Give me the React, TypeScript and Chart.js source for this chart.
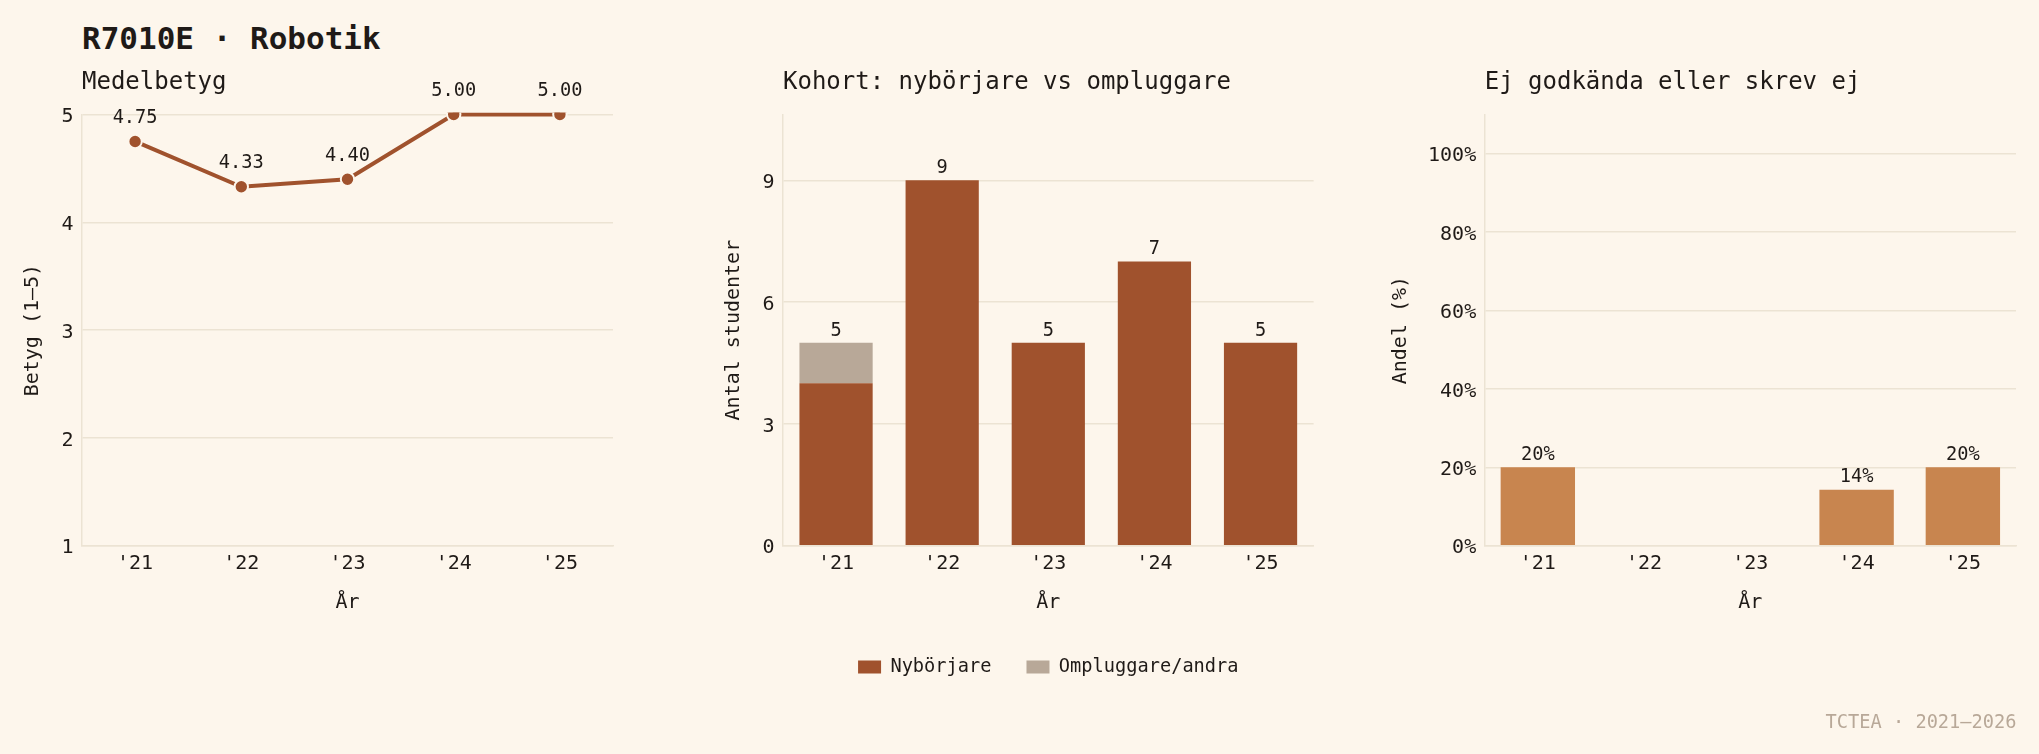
import React, { useEffect, useRef } from "react";
import { Chart, registerables } from "chart.js";

Chart.register(...registerables);

// ---- data ----
const years = ["'21", "'22", "'23", "'24", "'25"];
const meanGrade = [4.75, 4.33, 4.4, 5.0, 5.0];
const beginners = [4, 9, 5, 7, 5];
const others = [1, 0, 0, 0, 0];
const failShare = [20, 0, 0, 14.3, 20];
const gradeTicks = [1, 2, 3, 4, 5];
const cohortTicks = [0, 3, 6, 9];
const shareTicks = [0, 20, 40, 60, 80, 100];

// ---- style ----
const W = 2039;
const H = 754;
const BG = "#fdf6ec";
const INK = "#1f1a17";
const GRID = "#ece3d3";
const SIENNA = "#a0522d";
const TAUPE = "#b8a898";
const TAN = "#c8854f";
const FONT = "'DejaVu Sans Mono', monospace";

Chart.defaults.font.family = FONT;

const PAD_TOP = 68.6;
const TITLE_PB = 17.1;

function valueLabels(values: number[], fmt: (v: number) => string, offset: number) {
  return {
    id: "valueLabels",
    afterDatasetsDraw(chart: any) {
      const { ctx } = chart;
      const xs = chart.scales.x;
      const ys = chart.scales.y;
      ctx.save();
      ctx.font = `18.67px ${FONT}`;
      ctx.fillStyle = INK;
      ctx.textAlign = "center";
      ctx.textBaseline = "middle";
      values.forEach((v, i) => {
        if (!(v > 0)) return;
        ctx.fillText(fmt(v), xs.getPixelForValue(i), ys.getPixelForValue(v) - offset);
      });
      ctx.restore();
    },
  };
}

function makeScales(o: {
  yMin: number;
  yMax: number;
  yTicks: number[];
  yFmt?: (v: any) => string;
  yTitle: string;
  yWidth: number;
  xHeight: number;
  xTitlePb: number;
  stacked?: boolean;
}) {
  return {
    x: {
      type: "category",
      offset: true,
      stacked: !!o.stacked,
      grid: { display: false, drawTicks: false },
      border: { display: true, color: GRID, width: 1.5 },
      ticks: { color: INK, font: { size: 20 }, padding: 6.5, maxRotation: 0, autoSkip: false },
      title: {
        display: true,
        text: "År",
        color: INK,
        font: { size: 20 },
        padding: { top: 0, bottom: o.xTitlePb },
      },
      afterFit: (s: any) => {
        s.height = o.xHeight;
      },
    },
    y: {
      min: o.yMin,
      max: o.yMax,
      stacked: !!o.stacked,
      afterBuildTicks: (s: any) => {
        s.ticks = o.yTicks.map((v) => ({ value: v }));
      },
      grid: { color: GRID, lineWidth: 1.5, drawTicks: false },
      border: { display: true, color: GRID, width: 1.5 },
      ticks: {
        color: INK,
        font: { size: 20 },
        padding: 8.5,
        labelOffset: 2.5,
        callback: o.yFmt || ((v: any) => String(v)),
      },
      title: { display: true, text: o.yTitle, color: INK, font: { size: 20 }, padding: 0 },
      afterFit: (s: any) => {
        s.width = o.yWidth;
      },
    },
  };
}

function subTitle(text: string) {
  return {
    display: true,
    text,
    align: "start",
    fullSize: false,
    color: INK,
    font: { size: 24, weight: "normal" },
    padding: { top: 0, bottom: TITLE_PB },
  };
}

export default function App() {
  const c1 = useRef<HTMLCanvasElement>(null);
  const c2 = useRef<HTMLCanvasElement>(null);
  const c3 = useRef<HTMLCanvasElement>(null);

  useEffect(() => {
    document.body.style.margin = "0";
    document.body.style.background = BG;

    const common = {
      responsive: false,
      animation: false,
      devicePixelRatio: 1,
      events: [],
    };

    const ch1 = new Chart(c1.current!, {
      type: "line",
      data: {
        labels: years,
        datasets: [
          {
            data: meanGrade,
            borderColor: SIENNA,
            backgroundColor: SIENNA,
            borderWidth: 4,
            pointRadius: 6.7,
            pointBackgroundColor: SIENNA,
            pointBorderColor: BG,
            pointBorderWidth: 2,
            tension: 0,
            clip: 2,
          },
        ],
      },
      options: {
        ...common,
        layout: { padding: { left: 21, right: W - 613, top: PAD_TOP, bottom: 139.5 } },
        scales: makeScales({
          yMin: 1,
          yMax: 5,
          yTicks: gradeTicks,
          yTitle: "Betyg (1–5)",
          yWidth: 61,
          xHeight: 68.8,
          xTitlePb: 0,
        }),
        plugins: {
          title: subTitle("Medelbetyg"),
          legend: { display: false },
          tooltip: { enabled: false },
        },
      } as any,
      plugins: [valueLabels(meanGrade, (v) => v.toFixed(2), 23.5)],
    } as any);

    const totals = beginners.map((b, i) => b + others[i]);
    const ch2 = new Chart(c2.current!, {
      type: "bar",
      data: {
        labels: years,
        datasets: [
          {
            label: "Nybörjare",
            data: beginners,
            backgroundColor: SIENNA,
            borderWidth: 0,
            barPercentage: 0.69,
            categoryPercentage: 1,
          },
          {
            label: "Ompluggare/andra",
            data: others,
            backgroundColor: TAUPE,
            borderWidth: 0,
            barPercentage: 0.69,
            categoryPercentage: 1,
          },
        ],
      },
      options: {
        ...common,
        layout: { padding: { left: 721.5, right: W - 1313.6, top: PAD_TOP, bottom: 67.6 } },
        scales: makeScales({
          yMin: 0,
          yMax: 10.62,
          yTicks: cohortTicks,
          yTitle: "Antal studenter",
          yWidth: 61.5,
          xHeight: 77,
          xTitlePb: 8.2,
          stacked: true,
        }),
        plugins: {
          title: subTitle("Kohort: nybörjare vs ompluggare"),
          legend: {
            display: true,
            position: "bottom",
            fullSize: false,
            align: "center",
            labels: {
              boxWidth: 23,
              boxHeight: 13,
              padding: 35,
              color: INK,
              font: { size: 18.67 },
            },
          },
          tooltip: { enabled: false },
        },
      } as any,
      plugins: [valueLabels(totals, (v) => String(v), 12)],
    } as any);

    const ch3 = new Chart(c3.current!, {
      type: "bar",
      data: {
        labels: years,
        datasets: [
          {
            data: failShare,
            backgroundColor: TAN,
            borderWidth: 0,
            barPercentage: 0.7,
            categoryPercentage: 1,
          },
        ],
      },
      options: {
        ...common,
        layout: { padding: { left: 1388.5, right: W - 2016, top: PAD_TOP, bottom: 139.5 } },
        scales: makeScales({
          yMin: 0,
          yMax: 110,
          yTicks: shareTicks,
          yFmt: (v: any) => `${v}%`,
          yTitle: "Andel (%)",
          yWidth: 96.2,
          xHeight: 68.8,
          xTitlePb: 0,
        }),
        plugins: {
          title: subTitle("Ej godkända eller skrev ej"),
          legend: { display: false },
          tooltip: { enabled: false },
        },
      } as any,
      plugins: [valueLabels(failShare, (v) => `${Math.round(v)}%`, 12)],
    } as any);

    return () => {
      ch1.destroy();
      ch2.destroy();
      ch3.destroy();
    };
  }, []);

  const canvasStyle: React.CSSProperties = {
    position: "absolute",
    left: 0,
    top: 0,
    width: W,
    height: H,
  };

  return (
    <div
      style={{
        position: "absolute",
        left: 0,
        top: 0,
        width: W,
        height: H,
        background: BG,
        overflow: "hidden",
        fontFamily: FONT,
      }}
    >
      <div
        style={{
          position: "absolute",
          left: 82,
          top: 19.5,
          fontSize: 31,
          lineHeight: "36px",
          fontWeight: "bold",
          color: INK,
          whiteSpace: "nowrap",
        }}
      >
        R7010E · Robotik
      </div>
      <canvas ref={c1} width={W} height={H} style={canvasStyle} />
      <canvas ref={c2} width={W} height={H} style={canvasStyle} />
      <canvas ref={c3} width={W} height={H} style={canvasStyle} />
      <div
        style={{
          position: "absolute",
          right: 22.5,
          top: 710.8,
          fontSize: 18.67,
          lineHeight: "22px",
          color: TAUPE,
          whiteSpace: "nowrap",
        }}
      >
        TCTEA · 2021–2026
      </div>
    </div>
  );
}
